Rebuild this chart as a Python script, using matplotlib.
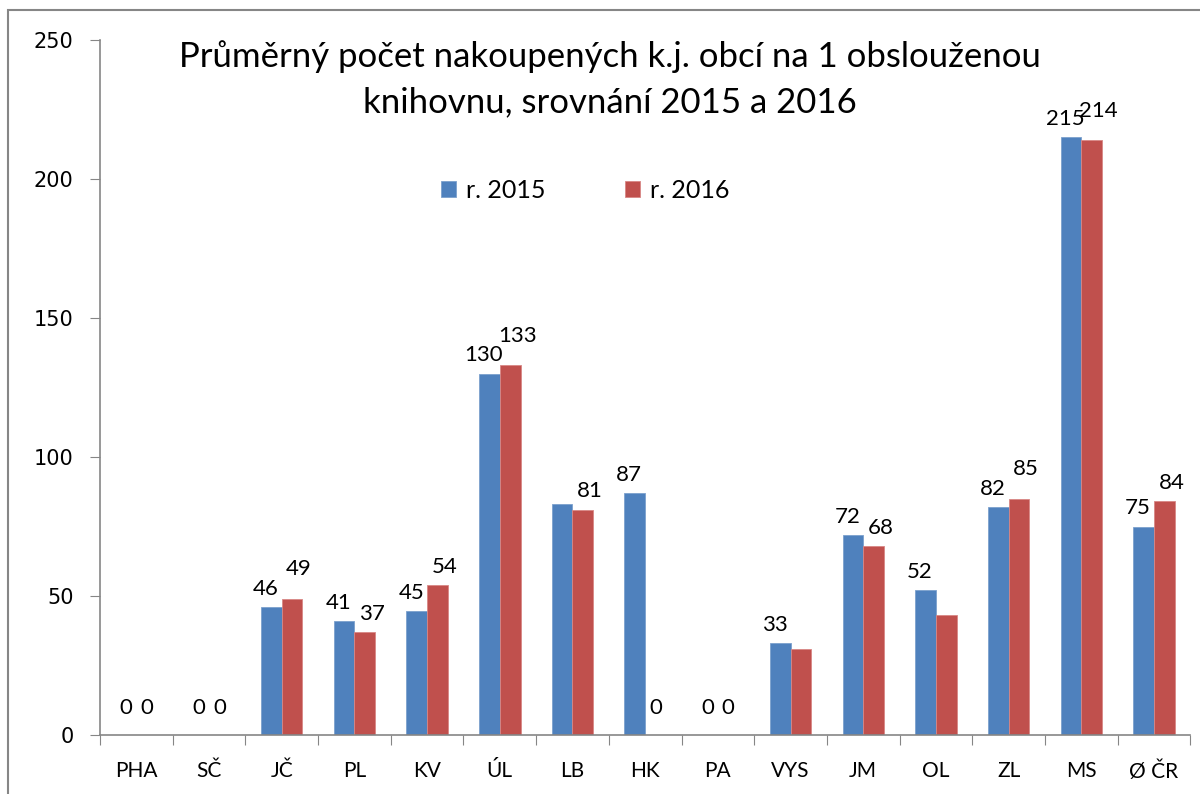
import matplotlib.pyplot as plt
import matplotlib.patches as patches
import numpy as np

# data
regions = ["PHA", "SČ", "JČ", "PL", "KV", "ÚL", "LB", "HK", "PA", "VYS", "JM", "OL", "ZL", "MS", "Ø ČR"]
y2015 = [0, 0, 46, 41, 44.5, 130, 83, 87, 0, 33, 72, 52, 82, 215, 75]
y2016 = [0, 0, 49, 37, 54, 133, 81, 0, 0, 31, 68, 43, 85, 214, 84]
# data labels as shown (some are missing in the original)
lab2015 = ["0", "0", "46", "41", "45", "130", "", "87", "0", "33", "72", "52", "82", "215", "75"]
lab2016 = ["0", "0", "49", "37", "54", "133", "81", "0", "0", "", "68", "", "85", "214", "84"]
series_names = ["r. 2015", "r. 2016"]

blue = "#4F81BD"
red = "#C0504D"
grey = "#868686"

plt.rcParams['font.family'] = ['Lato', 'DejaVu Sans']

fig = plt.figure(figsize=(12, 7.94), dpi=100)
ax = fig.add_axes([0.0833, 0.0743, 0.9087, 0.8753])

x = np.arange(len(regions))
w = 0.285
ax.bar(x - w/2, y2015, w, color=blue, edgecolor="#7BA0CD", linewidth=0.6, label=series_names[0])
ax.bar(x + w/2, y2016, w, color=red, edgecolor="#D88785", linewidth=0.6, label=series_names[1])

# data labels above the bars, nudged apart a little (zeros sit right over their bars)
for i in range(len(regions)):
    if lab2015[i]:
        dx = -4 if y2015[i] > 0 else 0
        dy = 6 if y2015[i] > 0 else 12
        ax.annotate(lab2015[i], (x[i] - w/2, y2015[i]), xytext=(dx, dy), textcoords="offset points",
                    ha="center", va="bottom", fontsize=16)
    if lab2016[i]:
        dx = 5 if y2016[i] > 0 else 0
        dy = 6 if y2016[i] > 0 else 12
        if abs(y2016[i] - y2015[i]) < 4 and lab2015[i] and y2016[i] > 0:
            dy = 14
        ax.annotate(lab2016[i], (x[i] + w/2, y2016[i]), xytext=(dx, dy), textcoords="offset points",
                    ha="center", va="bottom", fontsize=16)

ax.set_xlim(-0.5, len(regions) - 0.5)
ax.set_ylim(0, 250)
ax.set_yticks([0, 50, 100, 150, 200, 250])
ax.set_yticklabels(["0", "50", "100", "150", "200", "250"], family="DejaVu Sans", fontsize=15)

# category labels between tick marks
ax.set_xticks(np.arange(len(regions) + 1) - 0.5)
ax.set_xticklabels([])
ax.set_xticks(x, minor=True)
ax.set_xticklabels(regions, minor=True, fontsize=15)
ax.tick_params(axis="x", which="minor", length=0, pad=19)
ax.tick_params(axis="x", which="major", length=7, color=grey)
ax.tick_params(axis="y", length=7, color=grey, pad=12)

for s in ["top", "right"]:
    ax.spines[s].set_visible(False)
for s in ["left", "bottom"]:
    ax.spines[s].set_color(grey)
    ax.spines[s].set_linewidth(1.2)

# title inside the plot area
fig.text(0.508, 0.9, "Průměrný počet nakoupených k.j. obcí na 1 obslouženou\nknihovnu, srovnání 2015 a 2016",
         ha="center", va="center", fontsize=25, linespacing=1.5)

ax.legend(loc="center", bbox_to_anchor=(0.445, 0.784), ncol=2, frameon=False, fontsize=18,
          handlelength=0.6, handleheight=0.6, columnspacing=3.2, handletextpad=0.4)

# outer chart border
fig.patches.append(patches.Rectangle((8/1200, -0.1), 1.2, 1 - 10/794 + 0.1, transform=fig.transFigure,
                                     fill=False, edgecolor=grey, linewidth=1.5))

plt.savefig("out.png", dpi=100)
